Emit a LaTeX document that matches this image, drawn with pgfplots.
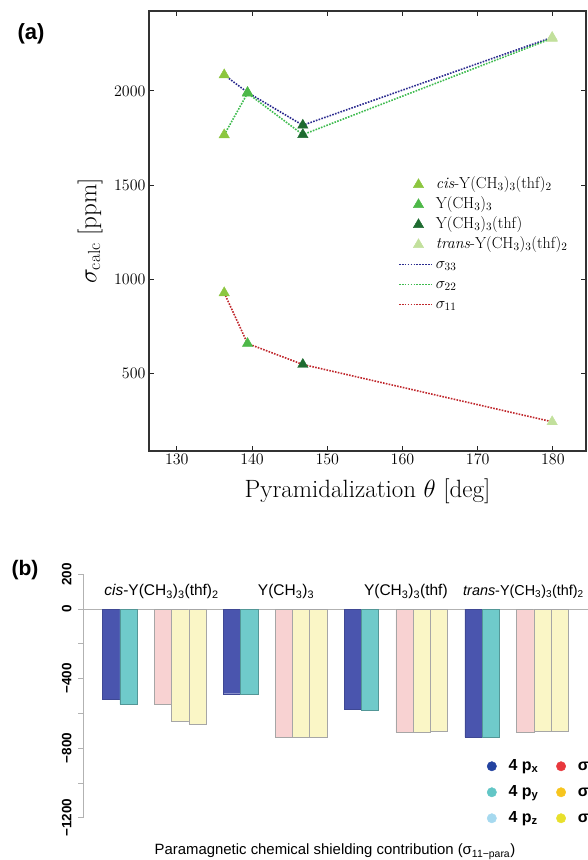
\RequirePackage{fix-cm}
\documentclass[border=0pt]{standalone}
\usepackage{fontspec}
\setsansfont{Liberation Sans}
\usepackage{pgfplots}
\pgfplotsset{compat=1.18}
\definecolor{cisG}{HTML}{8CC63F}
\definecolor{ymG}{HTML}{4DB848}
\definecolor{thfG}{HTML}{1E6B30}
\definecolor{trG}{HTML}{C2E09C}
\definecolor{s33}{HTML}{2B2B8F}
\definecolor{s22}{HTML}{3DBB4E}
\definecolor{s11}{HTML}{C0282D}
\definecolor{pxB}{HTML}{4A55AE}
\definecolor{pyT}{HTML}{6FCACA}
\definecolor{pinkB}{HTML}{F8D2D2}
\definecolor{yelB}{HTML}{FAF6C6}
\definecolor{lgPx}{HTML}{2443A0}
\definecolor{lgPy}{HTML}{62C6C6}
\definecolor{lgPz}{HTML}{A6D9EF}
\definecolor{lgR}{HTML}{E8383D}
\definecolor{lgO}{HTML}{F7C51E}
\definecolor{lgY}{HTML}{E8E02C}
\pgfplotsset{
  tri/.style={only marks, mark=triangle*, mark size=6pt, color=#1,
    legend image code/.code={\draw[mark repeat=2, mark phase=2, ##1] plot coordinates {(0pt,0pt) (19.5pt,0pt) (33pt,0pt)};}},
  sline/.style={legend image code/.code={\draw[#1, dash pattern=on 1.6pt off 1.3pt, line width=1.6pt] (0pt,0pt) -- (33pt,0pt);}},
}
\begin{document}
\begin{tikzpicture}[x=1pt,y=1pt]
% ---------------- panel (a) ----------------
\begin{axis}[
  at={(149pt,409pt)}, anchor=south west,
  scale only axis, width=437pt, height=440pt,
  xmin=126.3, xmax=184.4, ymin=90, ymax=2424,
  xtick={130,140,150,160,170,180}, ytick={500,1000,1500,2000},
  /pgf/number format/1000 sep={},
  tick style={black!85, line width=0.9pt},
  major tick length=5pt,
  axis line style={line width=1.2pt, black!80},
  ticklabel style={font=\fontsize{16}{19}\selectfont},
  xlabel={Pyramidalization $\theta$ [deg]},
  ylabel={$\sigma_{\mathrm{calc}}$ [ppm]},
  label style={font=\fontsize{25}{28}\selectfont},
  xlabel style={at={(axis description cs:0.5,-0.091)}, anchor=center},
  ylabel style={at={(axis description cs:-0.135,0.5)}, anchor=center},
  legend style={at={(0.5698,0.625)}, anchor=north west, draw=none, fill=none,
    inner sep=0pt, column sep=3pt, row sep=3pt,
    nodes={inner sep=0pt, text height=12pt, text depth=5pt},
    font=\fontsize{16}{19}\selectfont},
  legend cell align=left,
]
\addlegendimage{tri=cisG}
\addlegendentry{\textit{cis}-Y(CH$_3$)$_3$(thf)$_2$}
\addlegendimage{tri=ymG}
\addlegendentry{Y(CH$_3$)$_3$}
\addlegendimage{tri=thfG}
\addlegendentry{Y(CH$_3$)$_3$(thf)}
\addlegendimage{tri=trG}
\addlegendentry{\textit{trans}-Y(CH$_3$)$_3$(thf)$_2$}
\addlegendimage{sline=s33}
\addlegendentry{$\sigma_{33}$}
\addlegendimage{sline=s22}
\addlegendentry{$\sigma_{22}$}
\addlegendimage{sline=s11}
\addlegendentry{$\sigma_{11}$}
% lines
\addplot[forget plot, s33, dash pattern=on 1.6pt off 1.3pt, line width=1.6pt, mark=none]
  coordinates {(136.3,2085) (139.4,1992) (146.75,1818) (179.9,2284)};
\addplot[forget plot, s22, dash pattern=on 1.6pt off 1.3pt, line width=1.6pt, mark=none]
  coordinates {(136.3,1767) (139.4,1988) (146.75,1768) (179.9,2279)};
\addplot[forget plot, s11, dash pattern=on 1.6pt off 1.3pt, line width=1.6pt, mark=none]
  coordinates {(136.3,929) (139.4,660) (146.75,549) (179.9,245)};
% markers
\addplot[forget plot, tri=cisG]
  coordinates {(136.3,2085) (136.3,1767) (136.3,929)};
\addplot[forget plot, tri=ymG]
  coordinates {(139.4,1992) (139.4,1988) (139.4,660)};
\addplot[forget plot, tri=thfG]
  coordinates {(146.75,1818) (146.75,1768) (146.75,549)};
\addplot[forget plot, tri=trG]
  coordinates {(179.9,2284) (179.9,2279) (179.9,245)};
\end{axis}
\node[font=\sffamily\bfseries\fontsize{22}{24}\selectfont] at (31pt,826pt) {(a)};
% ---------------- panel (b) ----------------
\begin{axis}[
  at={(83.3pt,42.3pt)}, anchor=south west,
  scale only axis, width=516.8pt, height=243.4pt,
  xmin=-1.617, xmax=28.34, ymin=-1200, ymax=200,
  axis x line=middle, axis y line=left,
  axis line style={-, gray!60, line width=0.8pt},
  hide obscured x ticks=false, hide obscured y ticks=false,
  xtick=\empty,
  ytick={-1200,-800,-400,0,200},
  yticklabels={−1200,−800,−400,0,200},
  minor ytick={-1000,-600,-200},
  tick align=outside,
  major tick length=5pt, minor tick length=5pt,
  tick style={gray!60, line width=0.8pt},
  yticklabel style={rotate=90, anchor=south, inner sep=0pt,
    font=\sffamily\bfseries\fontsize{13.5}{16}\selectfont},
  yticklabel shift=6.6pt,
  xlabel={Paramagnetic chemical shielding contribution (σ\textsubscript{11−para})},
  xlabel style={at={(axis description cs:0.487,-0.1397)}, anchor=center,
    font=\sffamily\fontsize{14.9}{18}\selectfont},
  legend columns=2,
  legend style={at={(0.781,0.245)}, anchor=north west, draw=none, fill=none,
    inner sep=0pt, column sep=12pt, row sep=10pt,
    nodes={inner sep=0pt, text height=12pt, text depth=4pt},
    font=\sffamily\bfseries\fontsize{16}{18}\selectfont},
  legend cell align=left,
]
\addlegendimage{only marks, mark=*, mark size=4.7pt, color=lgPx}
\addlegendentry{4 p\textsubscript{x}\hspace*{6pt}}
\addlegendimage{only marks, mark=*, mark size=4.7pt, color=lgR}
\addlegendentry{σ}
\addlegendimage{only marks, mark=*, mark size=4.7pt, color=lgPy}
\addlegendentry{4 p\textsubscript{y}\hspace*{6pt}}
\addlegendimage{only marks, mark=*, mark size=4.7pt, color=lgO}
\addlegendentry{σ}
\addlegendimage{only marks, mark=*, mark size=4.7pt, color=lgPz}
\addlegendentry{4 p\textsubscript{z}\hspace*{6pt}}
\addlegendimage{only marks, mark=*, mark size=4.7pt, color=lgY}
\addlegendentry{σ}
\addplot[forget plot, ybar, bar width=17.25pt, bar shift=0pt, fill=pxB, draw=pxB!85!black, line width=0.4pt]
  coordinates {(0,-516) (7,-487) (14,-577) (21,-738)};
\addplot[forget plot, ybar, bar width=17.25pt, bar shift=0pt, fill=pyT, draw=pyT!75!black, line width=0.4pt]
  coordinates {(1,-548) (8,-489) (15,-583) (22,-738)};
\addplot[forget plot, ybar, bar width=17.25pt, bar shift=0pt, fill=pinkB, draw=gray!70, line width=0.5pt]
  coordinates {(3,-545) (10,-738) (17,-709) (24,-711)};
\addplot[forget plot, ybar, bar width=17.25pt, bar shift=0pt, fill=yelB, draw=gray!70, line width=0.5pt]
  coordinates {(4,-644) (11,-738) (18,-709) (25,-700)};
\addplot[forget plot, ybar, bar width=17.25pt, bar shift=0pt, fill=yelB, draw=gray!70, line width=0.5pt]
  coordinates {(5,-663) (12,-738) (19,-702) (26,-703)};
\node[anchor=west, font=\sffamily\fontsize{15.5}{18}\selectfont] at (axis cs:-0.6,100) {\textit{cis}-Y(CH\textsubscript{3})\textsubscript{3}(thf)\textsubscript{2}};
\node[anchor=west, font=\sffamily\fontsize{15.5}{18}\selectfont] at (axis cs:8.3,100) {Y(CH\textsubscript{3})\textsubscript{3}};
\node[anchor=west, font=\sffamily\fontsize{15.5}{18}\selectfont] at (axis cs:14.45,100) {Y(CH\textsubscript{3})\textsubscript{3}(thf)};
\node[anchor=west, font=\sffamily\fontsize{14.4}{17}\selectfont] at (axis cs:20.2,100) {\textit{trans}-Y(CH\textsubscript{3})\textsubscript{3}(thf)\textsubscript{2}};
\end{axis}
\node[font=\sffamily\bfseries\fontsize{21}{24}\selectfont] at (25pt,290pt) {(b)};
\pgfresetboundingbox
\useasboundingbox (0pt,0pt) rectangle (588pt,860pt);
\end{tikzpicture}
\end{document}
